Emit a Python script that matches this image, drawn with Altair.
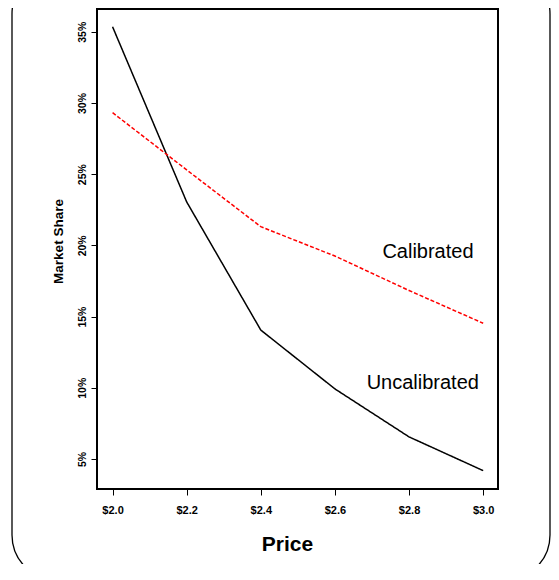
import altair as alt
import pandas as pd

# Data
price = [2.0, 2.2, 2.4, 2.6, 2.8, 3.0]
uncalibrated = [0.3535, 0.2305, 0.1405, 0.0992, 0.0655, 0.0418]
calibrated = [0.2932, 0.2530, 0.2131, 0.1925, 0.1683, 0.1453]

x_ticks = [2.0, 2.2, 2.4, 2.6, 2.8, 3.0]
y_ticks = [0.05, 0.10, 0.15, 0.20, 0.25, 0.30, 0.35]

label_text = ["Calibrated", "Uncalibrated"]
label_price = [2.851, 2.837]
label_share = [0.1954, 0.1034]

rows = []
for p, u, c in zip(price, uncalibrated, calibrated):
    rows.append({"price": p, "share": u, "series": "Uncalibrated"})
    rows.append({"price": p, "share": c, "series": "Calibrated"})
df = pd.DataFrame(rows)
labels = pd.DataFrame({"text": label_text, "price": label_price, "share": label_share})

FONT = "Liberation Sans"

x_scale = alt.Scale(domain=[1.958, 3.04], nice=False, zero=False)
y_scale = alt.Scale(domain=[0.0289, 0.366], nice=False, zero=False)

x_axis = alt.Axis(
    values=x_ticks, labelExpr="'$' + format(datum.value, '.1f')",
    grid=False, domain=False, tickSize=6, tickColor="black", tickWidth=1,
    labelFont=FONT, labelFontSize=11, labelFontWeight="bold", labelColor="black",
    labelBaseline="middle", labelPadding=15, labelAlign="center",
    title="Price", titleFont=FONT, titleFontSize=21, titleFontWeight="bold",
    titleColor="black", titleX=190, titleY=55, titleAlign="center", titleBaseline="middle",
)
y_axis = alt.Axis(
    values=y_ticks, format=".0%",
    grid=False, domain=False, tickSize=6, tickColor="black", tickWidth=1,
    labelFont=FONT, labelFontSize=10.5, labelFontWeight="bold", labelColor="black",
    labelAngle=270, labelAlign="center", labelBaseline="middle", labelPadding=9,
    title="Market Share", titleFont=FONT, titleFontSize=13.5, titleFontWeight="bold",
    titleColor="black", titleAngle=270, titleX=-39, titleY=232,
    titleAlign="center", titleBaseline="middle",
)

border = alt.Chart(alt.Data(values=[{}])).mark_rect(
    fill="transparent", stroke="black", strokeWidth=1.3, cornerRadius=45
).encode(
    x=alt.value(-85), x2=alt.value(453), y=alt.value(-40), y2=alt.value(571)
)

lines = alt.Chart(df).mark_line(strokeWidth=1.5).encode(
    x=alt.X("price:Q", scale=x_scale, axis=x_axis),
    y=alt.Y("share:Q", scale=y_scale, axis=y_axis),
    color=alt.Color("series:N", scale=alt.Scale(domain=["Uncalibrated", "Calibrated"],
                                                range=["black", "#ff0000"]), legend=None),
    strokeDash=alt.StrokeDash("series:N", scale=alt.Scale(domain=["Uncalibrated", "Calibrated"],
                                                          range=[[1, 0], [4, 2]]), legend=None),
)

texts = alt.Chart(labels).mark_text(
    font=FONT, fontSize=20, color="black", align="center", baseline="middle"
).encode(
    x=alt.X("price:Q", scale=x_scale),
    y=alt.Y("share:Q", scale=y_scale),
    text="text:N",
)

chart = alt.layer(border, lines, texts).properties(
    width=401, height=480,
    autosize=alt.AutoSizeParams(type="none"),
    padding={"left": 89, "top": 1, "right": 53, "bottom": 75},
    background="white",
).configure_view(stroke="black", strokeWidth=2)

chart.save("out.html", embed_options={"renderer": "svg", "actions": False})
